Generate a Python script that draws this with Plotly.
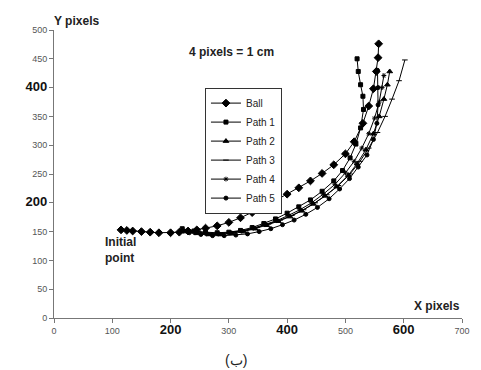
import plotly.graph_objects as go

# ---- data ----
ball_x = [115, 125, 135, 150, 165, 180, 200, 215, 230, 245, 260, 280, 300, 320, 340, 360, 380, 400, 420, 440, 460, 480, 500, 515, 530, 540, 548, 553, 556, 557]
ball_y = [153, 152, 151, 150, 149, 148, 148, 149, 151, 153, 156, 160, 166, 174, 183, 193, 204, 215, 226, 238, 251, 266, 285, 306, 338, 368, 398, 428, 452, 476]

p1_x = [220, 240, 260, 280, 300, 320, 340, 360, 380, 400, 420, 440, 460, 480, 495, 508, 518, 526, 531, 530, 526, 522, 520]
p1_y = [155, 151, 149, 148, 149, 152, 157, 164, 172, 182, 193, 205, 220, 238, 256, 278, 302, 330, 362, 385, 405, 428, 450]

p2_x = [225, 245, 265, 285, 305, 325, 345, 365, 385, 405, 425, 445, 465, 485, 505, 520, 535, 548, 558, 566, 572, 576]
p2_y = [150, 147, 145, 145, 147, 150, 155, 161, 168, 176, 186, 198, 212, 228, 248, 268, 292, 320, 350, 380, 405, 428]

p3_x = [228, 248, 268, 288, 308, 328, 348, 368, 388, 408, 428, 448, 468, 488, 508, 525, 540, 555, 568, 580, 592, 602]
p3_y = [152, 149, 147, 147, 149, 152, 157, 163, 170, 178, 188, 200, 214, 230, 250, 272, 295, 322, 350, 380, 412, 448]

p4_x = [222, 242, 262, 282, 302, 322, 342, 362, 382, 402, 422, 442, 462, 482, 500, 515, 528, 540, 550, 558, 563, 566]
p4_y = [151, 148, 146, 146, 148, 151, 156, 162, 169, 178, 188, 200, 215, 232, 252, 272, 295, 320, 347, 375, 400, 421]

p5_x = [232, 252, 272, 292, 312, 332, 352, 372, 392, 412, 432, 452, 472, 490, 507, 522, 537, 548, 554, 556, 556, 555]
p5_y = [148, 145, 143, 143, 144, 146, 150, 155, 162, 170, 180, 192, 207, 224, 242, 262, 283, 310, 338, 370, 400, 430]

series = [
    ("Ball", ball_x, ball_y, "diamond", 6),
    ("Path 1", p1_x, p1_y, "square", 4),
    ("Path 2", p2_x, p2_y, "triangle-up", 5),
    ("Path 3", p3_x, p3_y, "line-ew-open", 4),
    ("Path 4", p4_x, p4_y, "asterisk-open", 4),
    ("Path 5", p5_x, p5_y, "circle", 4),
]

x_ticks = [0, 100, 200, 300, 400, 500, 600, 700]
x_bold = [200, 400, 600]
y_ticks = [0, 50, 100, 150, 200, 250, 300, 350, 400, 450, 500]
y_bold = [200, 400]


def tick_text(vals, bold):
    out = []
    for v in vals:
        if v in bold:
            out.append("<b><span style='font-size:13px;color:#111'>%d</span></b>" % v)
        else:
            out.append(str(v))
    return out


fig = go.Figure()
for name, xs, ys, sym, size in series:
    fig.add_trace(go.Scatter(
        x=xs, y=ys, name=name, mode="lines+markers",
        line=dict(color="black", width=1),
        marker=dict(symbol=sym, size=size, color="black",
                    line=dict(color="black", width=1)),
    ))

fig.update_layout(
    width=473, height=362,
    margin=dict(l=46, r=11, t=22, b=52),
    paper_bgcolor="white", plot_bgcolor="white",
    font=dict(family="Liberation Sans, Arial, sans-serif", color="black", size=10),
    showlegend=True,
    legend=dict(x=0.37, y=0.80, xanchor="left", yanchor="top",
                bordercolor="#333", borderwidth=1, bgcolor="white",
                font=dict(size=10, color="#222"), tracegroupgap=0,
                itemwidth=30),
    xaxis=dict(range=[0, 700], tickvals=x_ticks, ticktext=tick_text(x_ticks, x_bold),
               showgrid=False, zeroline=False, showline=True, linecolor="#777",
               linewidth=1, ticks="outside", ticklen=4, tickcolor="#777",
               tickfont=dict(size=9, color="#555")),
    yaxis=dict(range=[0, 500], tickvals=y_ticks, ticktext=tick_text(y_ticks, y_bold),
               showgrid=False, zeroline=False, showline=True, linecolor="#777",
               linewidth=1, ticks="outside", ticklen=4, tickcolor="#777",
               tickfont=dict(size=9, color="#555")),
    annotations=[
        dict(text="<b>Y pixels</b>", xref="paper", yref="paper", x=-0.005, y=1.0,
             xanchor="left", yanchor="bottom", showarrow=False,
             font=dict(size=12, color="#222")),
        dict(text="<b>4 pixels = 1 cm</b>", xref="x", yref="y", x=228, y=462,
             xanchor="left", yanchor="middle", showarrow=False,
             font=dict(size=12, color="#222")),
        dict(text="<b>Initial<br>point</b>", xref="x", yref="y", x=84, y=118,
             xanchor="left", yanchor="middle", showarrow=False, align="left",
             font=dict(size=12, color="#222")),
        dict(text="<b>X pixels</b>", xref="x", yref="y", x=700, y=6,
             xanchor="right", yanchor="bottom", showarrow=False,
             font=dict(size=12, color="#222")),
        dict(text="(ب)", xref="paper", yref="paper", x=0.445, y=-0.11,
             xanchor="center", yanchor="top", showarrow=False,
             font=dict(size=14, color="#222")),
    ],
)

fig.write_html("out.html")
